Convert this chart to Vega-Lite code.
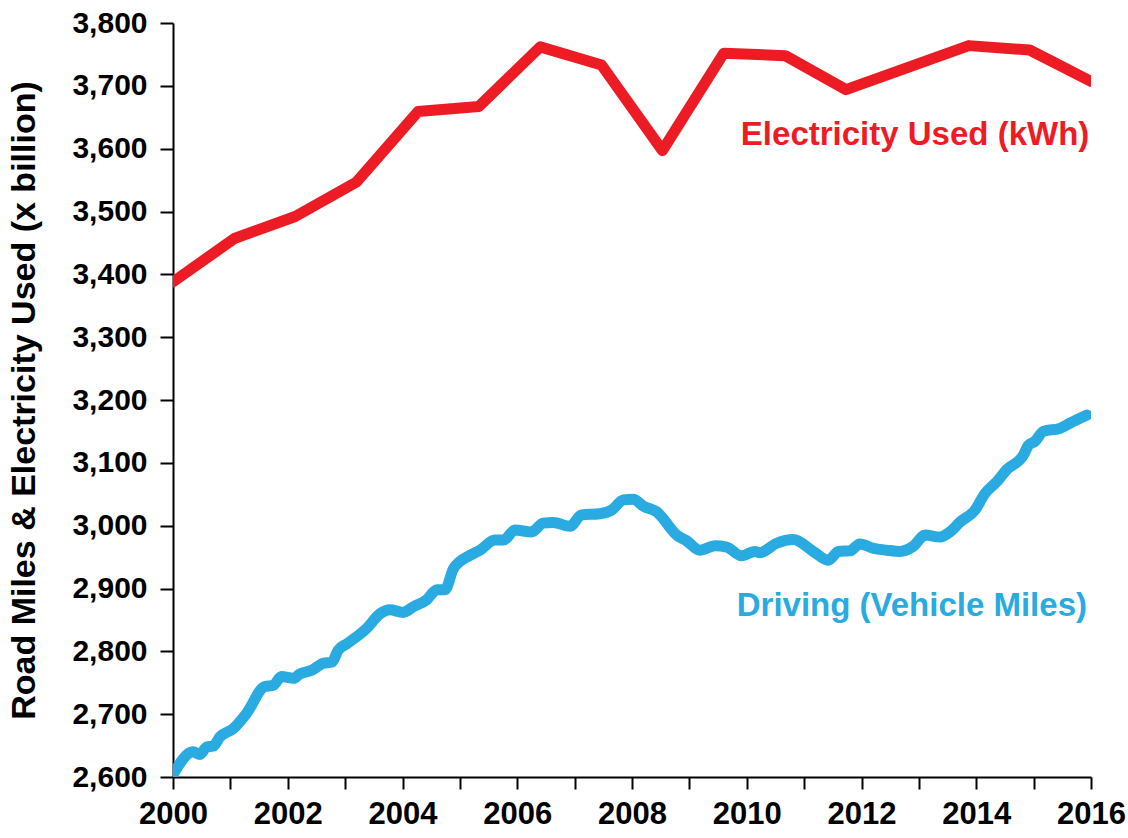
{
  "$schema": "https://vega.github.io/schema/vega-lite/v6.json",
  "autosize": {"type": "none"},
  "width": 918,
  "height": 754,
  "padding": {"left": 173, "top": 23, "right": 37, "bottom": 61},
  "background": "white",
  "config": {
    "view": {"stroke": null},
    "axis": {
      "domainColor": "#000000",
      "domainWidth": 2,
      "tickColor": "#000000",
      "tickWidth": 2,
      "grid": false,
      "labelColor": "#000000",
      "labelFont": "Liberation Sans",
      "labelFontWeight": "bold",
      "titleColor": "#000000",
      "titleFont": "Liberation Sans",
      "titleFontWeight": "bold"
    }
  },
  "datasets": {
    "lines": [
      {"series": "Electricity", "year": 2000.0, "value": 3388},
      {"series": "Electricity", "year": 2001.07, "value": 3457},
      {"series": "Electricity", "year": 2002.13, "value": 3492},
      {"series": "Electricity", "year": 2003.2, "value": 3547},
      {"series": "Electricity", "year": 2004.27, "value": 3659},
      {"series": "Electricity", "year": 2005.33, "value": 3667},
      {"series": "Electricity", "year": 2006.4, "value": 3762},
      {"series": "Electricity", "year": 2007.47, "value": 3733},
      {"series": "Electricity", "year": 2008.53, "value": 3597},
      {"series": "Electricity", "year": 2009.6, "value": 3752},
      {"series": "Electricity", "year": 2010.67, "value": 3748},
      {"series": "Electricity", "year": 2011.73, "value": 3694},
      {"series": "Electricity", "year": 2012.8, "value": 3729},
      {"series": "Electricity", "year": 2013.87, "value": 3764},
      {"series": "Electricity", "year": 2014.93, "value": 3757},
      {"series": "Electricity", "year": 2016.0, "value": 3707},
      {"series": "Driving", "year": 2000.0, "value": 2604},
      {"series": "Driving", "year": 2000.35, "value": 2640},
      {"series": "Driving", "year": 2000.47, "value": 2636},
      {"series": "Driving", "year": 2000.59, "value": 2648},
      {"series": "Driving", "year": 2000.7, "value": 2649},
      {"series": "Driving", "year": 2000.82, "value": 2664},
      {"series": "Driving", "year": 2001.05, "value": 2677},
      {"series": "Driving", "year": 2001.28, "value": 2701},
      {"series": "Driving", "year": 2001.6, "value": 2744},
      {"series": "Driving", "year": 2001.75, "value": 2746},
      {"series": "Driving", "year": 2001.89, "value": 2760},
      {"series": "Driving", "year": 2002.1, "value": 2757},
      {"series": "Driving", "year": 2002.21, "value": 2764},
      {"series": "Driving", "year": 2002.42, "value": 2770},
      {"series": "Driving", "year": 2002.62, "value": 2781},
      {"series": "Driving", "year": 2002.77, "value": 2783},
      {"series": "Driving", "year": 2002.88, "value": 2802},
      {"series": "Driving", "year": 2003.03, "value": 2812},
      {"series": "Driving", "year": 2003.38, "value": 2837},
      {"series": "Driving", "year": 2003.61, "value": 2860},
      {"series": "Driving", "year": 2003.78, "value": 2866},
      {"series": "Driving", "year": 2004.01, "value": 2862},
      {"series": "Driving", "year": 2004.19, "value": 2871},
      {"series": "Driving", "year": 2004.42, "value": 2882},
      {"series": "Driving", "year": 2004.6, "value": 2898},
      {"series": "Driving", "year": 2004.74, "value": 2898},
      {"series": "Driving", "year": 2004.89, "value": 2932},
      {"series": "Driving", "year": 2005.18, "value": 2953},
      {"series": "Driving", "year": 2005.35, "value": 2961},
      {"series": "Driving", "year": 2005.61, "value": 2977},
      {"series": "Driving", "year": 2005.76, "value": 2977},
      {"series": "Driving", "year": 2005.96, "value": 2993},
      {"series": "Driving", "year": 2006.25, "value": 2990},
      {"series": "Driving", "year": 2006.45, "value": 3004},
      {"series": "Driving", "year": 2006.63, "value": 3005},
      {"series": "Driving", "year": 2006.92, "value": 2999},
      {"series": "Driving", "year": 2007.12, "value": 3017},
      {"series": "Driving", "year": 2007.44, "value": 3019},
      {"series": "Driving", "year": 2007.65, "value": 3025},
      {"series": "Driving", "year": 2007.85, "value": 3041},
      {"series": "Driving", "year": 2008.02, "value": 3042},
      {"series": "Driving", "year": 2008.2, "value": 3031},
      {"series": "Driving", "year": 2008.43, "value": 3022},
      {"series": "Driving", "year": 2008.78, "value": 2985},
      {"series": "Driving", "year": 2008.95, "value": 2976},
      {"series": "Driving", "year": 2009.18, "value": 2961},
      {"series": "Driving", "year": 2009.45, "value": 2968},
      {"series": "Driving", "year": 2009.65, "value": 2966},
      {"series": "Driving", "year": 2009.91, "value": 2952},
      {"series": "Driving", "year": 2010.14, "value": 2959},
      {"series": "Driving", "year": 2010.23, "value": 2957},
      {"series": "Driving", "year": 2010.52, "value": 2972},
      {"series": "Driving", "year": 2010.81, "value": 2978},
      {"series": "Driving", "year": 2011.16, "value": 2959},
      {"series": "Driving", "year": 2011.42, "value": 2945},
      {"series": "Driving", "year": 2011.6, "value": 2959},
      {"series": "Driving", "year": 2011.8, "value": 2960},
      {"series": "Driving", "year": 2011.97, "value": 2971},
      {"series": "Driving", "year": 2012.21, "value": 2964},
      {"series": "Driving", "year": 2012.44, "value": 2961},
      {"series": "Driving", "year": 2012.67, "value": 2959},
      {"series": "Driving", "year": 2012.9, "value": 2967},
      {"series": "Driving", "year": 2013.11, "value": 2985},
      {"series": "Driving", "year": 2013.37, "value": 2982},
      {"series": "Driving", "year": 2013.54, "value": 2990},
      {"series": "Driving", "year": 2013.72, "value": 3006},
      {"series": "Driving", "year": 2013.98, "value": 3025},
      {"series": "Driving", "year": 2014.15, "value": 3051},
      {"series": "Driving", "year": 2014.36, "value": 3070},
      {"series": "Driving", "year": 2014.53, "value": 3089},
      {"series": "Driving", "year": 2014.82, "value": 3112},
      {"series": "Driving", "year": 2014.91, "value": 3128},
      {"series": "Driving", "year": 2015.02, "value": 3134},
      {"series": "Driving", "year": 2015.17, "value": 3150},
      {"series": "Driving", "year": 2015.46, "value": 3155},
      {"series": "Driving", "year": 2015.63, "value": 3163},
      {"series": "Driving", "year": 2015.93, "value": 3176}
    ],
    "labels": [
      {"series": "Electricity", "label": "Electricity Used (kWh)", "year": 2015.97, "value": 3622},
      {"series": "Driving", "label": "Driving (Vehicle Miles)", "year": 2015.93, "value": 2872}
    ]
  },
  "encoding": {
    "x": {
      "field": "year", "type": "quantitative",
      "scale": {"domain": [2000, 2016], "nice": false, "zero": false},
      "axis": {
        "title": null,
        "values": [2000, 2001, 2002, 2003, 2004, 2005, 2006, 2007, 2008, 2009, 2010, 2011, 2012, 2013, 2014, 2015, 2016],
        "format": "d",
        "labelExpr": "datum.value % 2 == 0 ? datum.label : ''",
        "tickSize": 12,
        "labelPadding": 10,
        "labelFontSize": 31,
        "labelOverlap": false,
        "labelFlush": false
      }
    },
    "y": {
      "field": "value", "type": "quantitative",
      "scale": {"domain": [2600, 3800], "nice": false, "zero": false},
      "axis": {
        "title": "Road Miles & Electricity Used (x billion)",
        "values": [2600, 2700, 2800, 2900, 3000, 3100, 3200, 3300, 3400, 3500, 3600, 3700, 3800],
        "format": ",.0f",
        "tickSize": 13,
        "labelPadding": 13,
        "labelFontSize": 30,
        "titleFontSize": 34,
        "titlePadding": 30,
        "labelOverlap": false,
        "labelFlush": false
      }
    },
    "color": {
      "field": "series", "type": "nominal",
      "scale": {"domain": ["Electricity", "Driving"], "range": ["#ED1C24", "#29ABE2"]},
      "legend": null
    }
  },
  "layer": [
    {
      "data": {"name": "lines"},
      "transform": [{"filter": "datum.series == 'Electricity'"}],
      "mark": {"type": "line", "interpolate": "linear", "strokeWidth": 11, "strokeCap": "round", "strokeJoin": "round", "clip": true}
    },
    {
      "data": {"name": "lines"},
      "transform": [{"filter": "datum.series == 'Driving'"}],
      "mark": {"type": "line", "interpolate": "monotone", "strokeWidth": 11, "strokeCap": "round", "strokeJoin": "round", "clip": true}
    },
    {
      "data": {"name": "labels"},
      "mark": {"type": "text", "align": "right", "baseline": "middle", "font": "Liberation Sans", "fontWeight": "bold", "fontSize": 33},
      "encoding": {
        "text": {"field": "label"}
      }
    }
  ]
}
